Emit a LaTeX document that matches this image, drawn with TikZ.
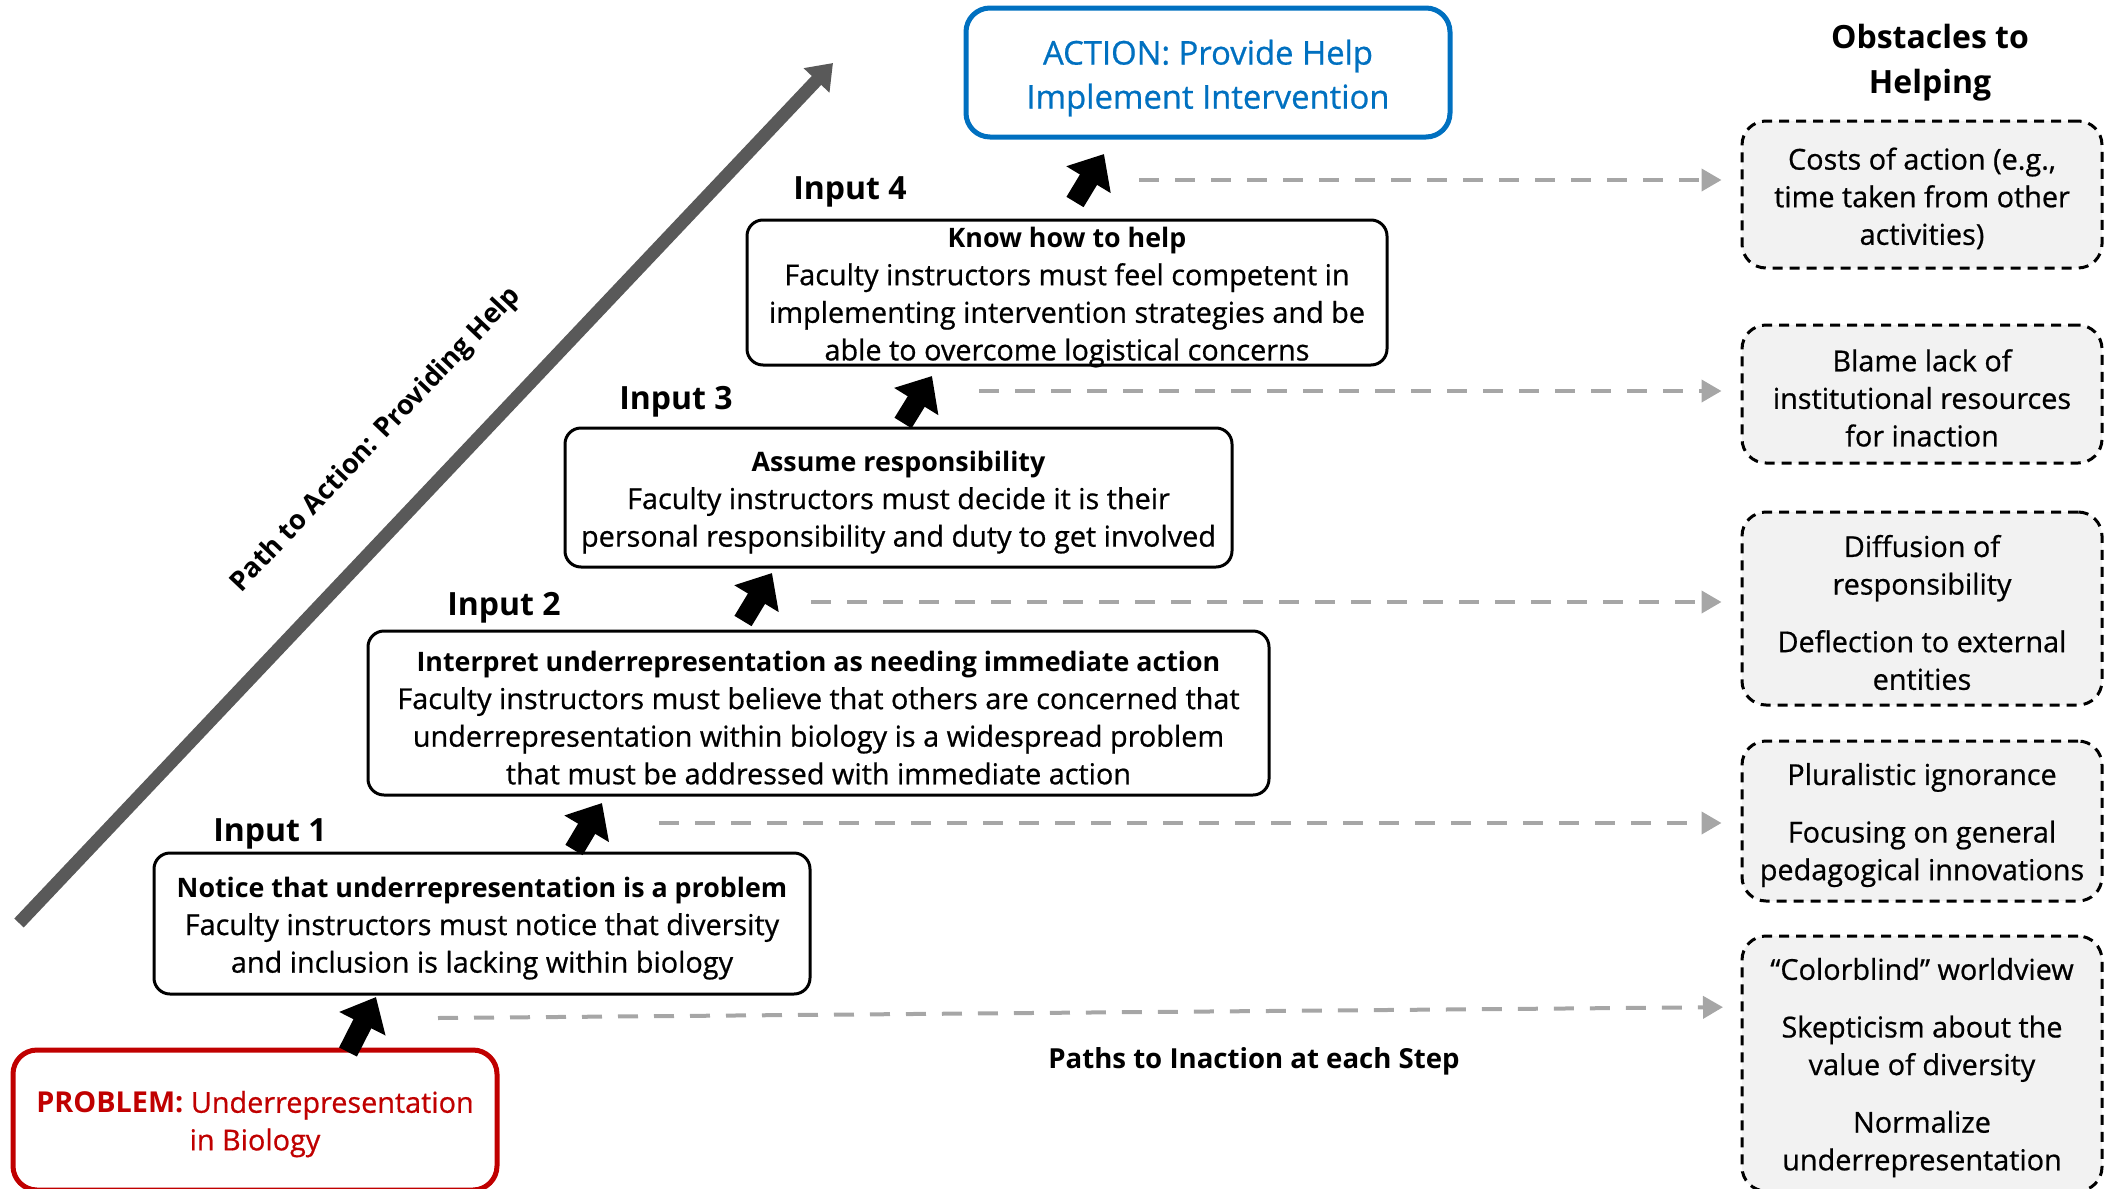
\documentclass[tikz,border=0pt]{standalone}
\usepackage{fontspec}
\setmainfont{Open Sans}[UprightFeatures={FakeBold=0.7}]
\usetikzlibrary{arrows.meta}

\definecolor{probred}{HTML}{C00000}
\definecolor{actblue}{HTML}{0070C0}
\definecolor{pathgray}{HTML}{595959}
\definecolor{dashgray}{HTML}{A6A6A6}
\definecolor{obsfill}{HTML}{F2F2F2}

\newcommand{\topgap}{\rule{0pt}{15pt}}
\newcommand{\stephead}[1]{{\fontsize{13.4}{18.8}\selectfont\bfseries\topgap #1}}

\tikzset{
    stepbox/.style={draw, rounded corners=8pt, line width=1.5pt, align=center, inner sep=0pt,
        font=\fontsize{14.4}{18.8}\selectfont},
    problembox/.style={stepbox, draw=probred, text=probred, line width=2.5pt, rounded corners=12pt},
    actionbox/.style={stepbox, draw=actblue, text=actblue, line width=2.5pt, rounded corners=12pt,
        font=\fontsize{16.4}{22}\selectfont},
    obsbox/.style={draw, dashed, dash pattern=on 5pt off 3.5pt, fill=obsfill, rounded corners=12pt,
        line width=1.5pt, align=center, inner sep=0pt, minimum width=180pt,
        font=\fontsize{14.4}{18.8}\selectfont},
    inputlbl/.style={font=\fontsize{16}{18}\selectfont\bfseries},
    stepup/.style={line width=10pt, -{Triangle[width=25pt,length=15pt]}},
    inaction/.style={draw=dashgray, line width=2pt, dash pattern=on 10pt off 8pt,
        -{Triangle[width=11pt,length=10pt]}, shorten >=9.5pt},
    pathline/.style={draw=pathgray, line width=6.5pt, -{Triangle[width=17pt,length=12pt]}}
}

\begin{document}
\begin{tikzpicture}[x=0.5pt, y=-0.5pt]
    \useasboundingbox (0,0) rectangle (2106,1189);

    % the path to action
    \coordinate (pathstart) at (19,923);
    \coordinate (pathend) at (833,63);
    \draw[pathline] (pathstart) -- (pathend);
    \node[rotate=46.6, font=\fontsize{13.6}{16}\selectfont\bfseries] (pathlbl) at (376,440) {Path to Action: Providing Help};

    % problem, steps and action
    \node[problembox, minimum width=242pt, minimum height=70pt] (problem) at (255,1120)
        {\topgap\textbf{PROBLEM:} Underrepresentation\\in Biology};
    \node[stepbox, minimum width=328pt, minimum height=70.5pt] (notice) at (482,923.5)
        {\stephead{Notice that underrepresentation is a problem}\\
        Faculty instructors must notice that diversity\\
        and inclusion is lacking within biology};
    \node[stepbox, minimum width=450.5pt, minimum height=82pt] (interpret) at (818.5,713)
        {\stephead{Interpret underrepresentation as needing immediate action}\\
        Faculty instructors must believe that others are concerned that\\
        underrepresentation within biology is a widespread problem\\
        that must be addressed with immediate action};
    \node[stepbox, minimum width=333.5pt, minimum height=69.5pt] (assume) at (898.5,497.5)
        {\stephead{Assume responsibility}\\
        Faculty instructors must decide it is their\\
        personal responsibility and duty to get involved};
    % text runs over the lower edge here
    \node[stepbox, minimum width=320pt, minimum height=72.5pt] (knowhow) at (1067,292.5)
        {{\fontsize{13.4}{18.8}\selectfont\bfseries\rule{0pt}{11.5pt}Know how to help}\\
        Faculty instructors must feel competent in\\
        implementing intervention strategies and be\\
        \smash{able to overcome logistical concerns}};
    \node[actionbox, minimum width=242pt, minimum height=64.5pt] (action) at (1208,72.5)
        {\rule{0pt}{18pt}ACTION: Provide Help\\Implement Intervention};

    \node[inputlbl] (input1) at (270,834) {Input 1};
    \node[inputlbl] (input2) at (504,608) {Input 2};
    \node[inputlbl] (input3) at (676,402) {Input 3};
    \node[inputlbl] (input4) at (850,192) {Input 4};

    % arrows up the steps
    \coordinate (tail0) at (348,1052);  \coordinate (tip0) at (376,997);
    \coordinate (tail1) at (574,850);   \coordinate (tip1) at (602,803);
    \coordinate (tail2) at (743,621);   \coordinate (tip2) at (772,573);
    \coordinate (tail3) at (903,423);   \coordinate (tip3) at (932,376);
    \coordinate (tail4) at (1075,202);  \coordinate (tip4) at (1104,154);
    \foreach \i in {0,...,4}
        \draw[stepup] (tail\i) -- (tip\i);

    % obstacles
    \node[font=\fontsize{16}{22.5}\selectfont\bfseries, align=center] (obshead) at (1930,63)
        {Obstacles to\\Helping};
    \node[obsbox, minimum height=73.5pt] (obsA) at (1922,194.5)
        {\topgap Costs of action (e.g.,\\time taken from other\\activities)};
    \node[obsbox, minimum height=69pt] (obsB) at (1922,394)
        {\topgap Blame lack of\\institutional resources\\for inaction};
    \node[obsbox, minimum height=96.5pt] (obsC) at (1922,608.5)
        {\topgap Diffusion of\\responsibility\\[10pt]Deflection to external\\entities};
    \node[obsbox, minimum height=80pt] (obsD) at (1922,821)
        {\topgap Pluralistic ignorance\\[10pt]Focusing on general\\pedagogical innovations};
    \node[obsbox, minimum height=127.5pt] (obsE) at (1922,1063.5)
        {\topgap``Colorblind'' worldview\\[10pt]Skepticism about the\\value of diversity\\[10pt]Normalize\\underrepresentation};

    % paths to inaction
    \coordinate (s4) at (1139,180);
    \coordinate (s3) at (979,391);
    \coordinate (s2) at (811,602);
    \coordinate (s1) at (659,823);
    \coordinate (s0) at (438,1018);
    \coordinate (e0) at (1742,1007);
    \draw[inaction] (s4) -- (s4 -| obsA.west);
    \draw[inaction] (s3) -- (s3 -| obsB.west);
    \draw[inaction] (s2) -- (s2 -| obsC.west);
    \draw[inaction] (s1) -- (s1 -| obsD.west);
    \draw[inaction] (s0) -- (e0);
    \node[font=\fontsize{13.8}{16}\selectfont\bfseries] (inactlbl) at (1254,1061) {Paths to Inaction at each Step};
\end{tikzpicture}
\end{document}
